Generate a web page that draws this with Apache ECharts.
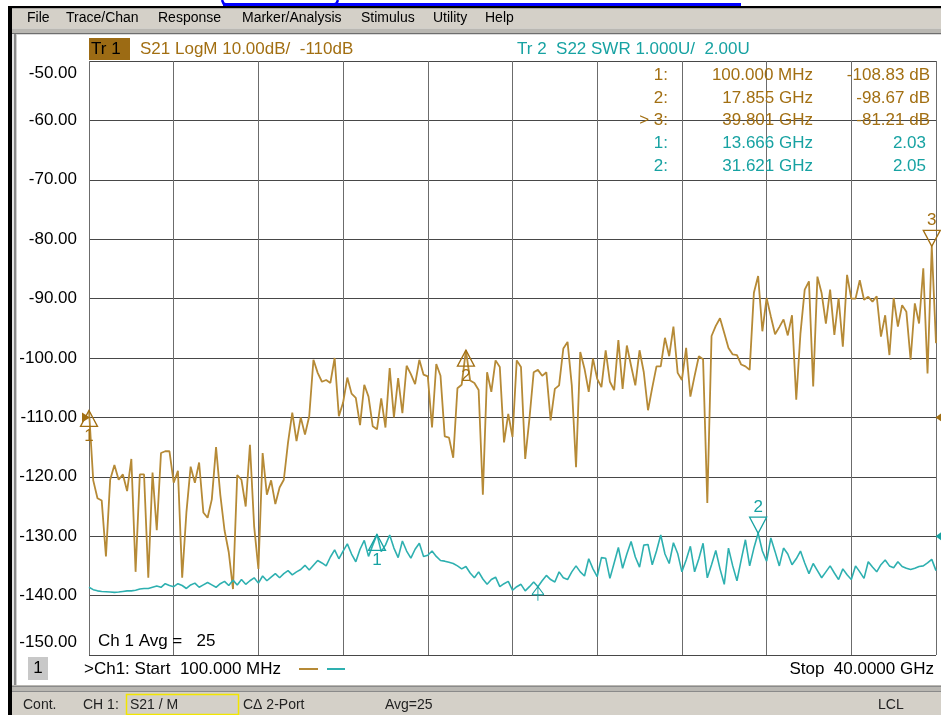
<!DOCTYPE html>
<html><head><meta charset="utf-8">
<script src="https://cdn.jsdelivr.net/npm/echarts@6/dist/echarts.min.js"></script>
<style>html,body{margin:0;padding:0;background:#fff;}#c{width:941px;height:715px;}</style>
</head><body><div id="c"></div>
<script>
// ---- sweep settings (from the picture: Start 100 MHz, Stop 40 GHz, 201 points) ----
const startGHz = 0.1;
const stopGHz = 40.0;
const nPoints = 201;
const freqCats = [];
for (let i = 0; i < nPoints; i++) freqCats.push((startGHz + i * (stopGHz - startGHz) / (nPoints - 1)).toFixed(4));

// ---- Trace 1: S21 LogM (dB) ----
const s21 = [
-108.83,-120.6,-123.6,-124.0,-133.4,-120.5,-118.0,-120.5,-119.6,-122.4,
-117.0,-136.0,-119.6,-119.6,-137.0,-119.3,-129.0,-116.0,-115.7,-115.7,
-121.0,-119.0,-137.0,-126.0,-118.3,-121.0,-117.6,-126.0,-126.9,-123.8,
-115.0,-123.0,-129.0,-132.7,-138.9,-119.7,-120.5,-125.0,-114.6,-128.4,
-135.5,-116.0,-123.0,-120.6,-124.6,-121.8,-120.5,-114.2,-109.2,-114.0,
-110.0,-112.9,-109.8,-100.3,-102.5,-104.0,-103.7,-104.2,-100.0,-109.8,
-107.5,-103.3,-106.0,-106.7,-111.3,-104.5,-106.5,-111.5,-112.0,-106.8,
-111.7,-101.7,-110.0,-103.4,-109.3,-101.3,-102.7,-104.4,-100.3,-102.8,
-103.1,-111.7,-101.0,-103.0,-113.2,-113.4,-116.8,-105.1,-104.5,-98.67,
-103.8,-104.2,-105.4,-123.0,-102.4,-105.7,-100.4,-101.5,-114.2,-109.4,
-113.3,-100.4,-101.5,-117.0,-110.2,-102.4,-102.0,-103.0,-102.4,-110.5,
-105.2,-104.6,-98.4,-97.3,-104.6,-118.4,-99.0,-101.8,-105.7,-100.1,
-103.5,-104.9,-98.7,-104.0,-105.4,-97.0,-105.2,-97.9,-101.3,-104.6,
-98.7,-102.4,-108.8,-105.0,-101.4,-101.4,-96.6,-99.7,-94.7,-102.5,
-103.7,-98.3,-106.5,-103.0,-99.7,-100.2,-124.4,-96.3,-94.6,-93.3,
-95.8,-98.3,-99.4,-99.5,-101.1,-101.4,-102.0,-89.0,-86.2,-95.5,
-89.9,-93.0,-96.0,-94.8,-93.5,-96.2,-92.8,-107.0,-95.8,-88.5,
-87.1,-104.8,-86.3,-89.1,-94.2,-88.5,-96.1,-89.9,-98.1,-86.0,
-90.0,-90.0,-86.9,-90.2,-89.7,-90.5,-89.6,-96.4,-92.8,-99.5,
-89.9,-94.7,-91.1,-92.2,-100.3,-90.8,-94.2,-84.9,-102.6,-81.21,
-97.5
];

// ---- Trace 2: S22 SWR (U) ----
const s22swr = [
1.14,1.10,1.08,1.07,1.065,1.06,1.055,1.06,1.07,1.08,
1.08,1.09,1.11,1.12,1.12,1.14,1.16,1.14,1.20,1.17,
1.15,1.20,1.17,1.12,1.18,1.21,1.14,1.18,1.22,1.18,
1.14,1.20,1.24,1.17,1.26,1.18,1.27,1.19,1.25,1.30,
1.21,1.33,1.25,1.31,1.37,1.30,1.37,1.42,1.35,1.40,
1.44,1.51,1.43,1.51,1.59,1.55,1.50,1.65,1.77,1.62,
1.75,1.87,1.70,1.57,1.78,1.93,1.66,1.85,2.03,1.74,
1.85,2.02,1.80,1.64,1.92,1.75,1.63,1.78,1.88,1.66,
1.68,1.75,1.66,1.59,1.58,1.56,1.54,1.50,1.45,1.49,
1.38,1.30,1.40,1.28,1.19,1.27,1.31,1.15,1.20,1.24,
1.09,1.15,1.19,1.08,1.15,1.23,1.15,1.25,1.34,1.27,
1.23,1.40,1.30,1.27,1.40,1.50,1.40,1.33,1.62,1.45,
1.32,1.64,1.63,1.29,1.55,1.81,1.46,1.70,1.91,1.65,
1.48,1.85,1.86,1.52,1.75,2.02,1.70,1.54,1.89,1.71,
1.40,1.60,1.83,1.40,1.62,1.88,1.30,1.52,1.76,1.45,
1.19,1.80,1.50,1.25,1.60,1.94,1.50,1.80,2.05,1.75,
1.58,1.97,1.74,1.50,1.80,1.70,1.52,1.62,1.75,1.55,
1.37,1.54,1.42,1.30,1.40,1.50,1.38,1.27,1.45,1.35,
1.27,1.50,1.40,1.29,1.57,1.48,1.40,1.52,1.60,1.50,
1.47,1.57,1.49,1.46,1.44,1.46,1.49,1.50,1.55,1.61,
1.42
];

// ---- axis ticks ----
const yTicks = [-150,-140,-130,-120,-110,-100,-90,-80,-70,-60,-50];
const s21RefLevel = -110;
const swrAxisRange = [0, 10];   // 1.000 U/div, ref 2.00 U at the -130 dB line
const swrRefLevel = 2.0;

// ---- markers ----
const s21MarkerNames = ['1','2','3'];
const s21MarkerIdx = [0, 89, 199];
const s21MarkerFreq = ['100.000 MHz','17.855 GHz','39.801 GHz'];
const s21MarkerVal = [-108.83, -98.67, -81.21];
const s22MarkerNames = ['1','2'];
const s22MarkerIdx = [68, 158];
const s22MarkerFreq = ['13.666 GHz','31.621 GHz'];
const s22MarkerVal = [2.03, 2.05];
const extraMarkIdx = 106;

const BROWN = '#a26f12';
const BROWN_LINE = '#b68a36';
const TEAL = '#17a2a2';
const TEAL_LINE = '#2eb0b0';
const FONT = '"Liberation Sans", Arial, sans-serif';

const TRI_UP = 'path://M8.5,0L17,16L0,16Z';
const TRI_DN = 'path://M0,0L17,0L8.5,16Z';
const ARR_L = 'path://M9,0L9,10L0,5Z';
const ARR_R = 'path://M0,0L9,5L0,10Z';
const STIM = 'path://M0,8L6,0L12,8M6,0L6,14M0,8L12,8';

function markerItem(name, idx, val, active, color) {
  return {
    coord: [freqCats[idx], val],
    symbol: active ? TRI_DN : TRI_UP,
    symbolSize: [17, 16],
    symbolOffset: [0, active ? -8 : 8],
    itemStyle: { color: 'rgba(255,255,255,0)', borderColor: color, borderWidth: 1.3 },
    label: { show: true, formatter: name, position: active ? 'top' : 'bottom', distance: 1,
             color: color, fontSize: 17, fontFamily: FONT }
  };
}

const s21MP = s21MarkerNames.map((n, k) => markerItem(n, s21MarkerIdx[k], s21MarkerVal[k], k === 2, BROWN));
s21MP.push({ coord: [freqCats[nPoints - 1], s21RefLevel], symbol: ARR_L, symbolSize: [7, 10], symbolOffset: [3, 0],
  itemStyle: { color: BROWN, borderWidth: 0 }, label: { show: false } });
s21MP.push({ coord: [freqCats[0], s21RefLevel], symbol: ARR_R, symbolSize: [8, 10], symbolOffset: [-3, 0],
  itemStyle: { color: BROWN, borderWidth: 0 }, label: { show: false } });

const s22MP = s22MarkerNames.map((n, k) => markerItem(n, s22MarkerIdx[k], s22MarkerVal[k], k === 1, TEAL));
s22MP.push({ coord: [freqCats[nPoints - 1], swrRefLevel], symbol: ARR_L, symbolSize: [7, 10], symbolOffset: [3, 0],
  itemStyle: { color: TEAL, borderWidth: 0 }, label: { show: false } });
s22MP.push({ coord: [freqCats[extraMarkIdx], s22swr[extraMarkIdx]], symbol: STIM, symbolSize: [12, 14], symbolOffset: [0, 7],
  itemStyle: { color: 'rgba(255,255,255,0)', borderColor: TEAL, borderWidth: 1 }, label: { show: false } });

function fmtDb(v) { return v.toFixed(2) + ' dB'; }

// ---- text / chrome graphics ----
function txt(text, x, y, opt) {
  opt = opt || {};
  return { type: 'text', x: x, y: y, z: 10, silent: true,
    style: { text: text, fill: opt.fill || '#000', fontSize: opt.size || 17, fontFamily: FONT,
             align: opt.align || 'left', verticalAlign: 'middle' } };
}
function rect(x, y, w, h, fill, opt) {
  opt = opt || {};
  return { type: 'rect', z: opt.z == null ? 1 : opt.z, silent: true, shape: { x: x, y: y, width: w, height: h },
           style: opt.stroke ? { fill: 'none', stroke: opt.stroke, lineWidth: opt.lw || 1 } : { fill: fill } };
}
function line(x1, y1, x2, y2, color, w) {
  return { type: 'line', z: 10, silent: true, shape: { x1: x1, y1: y1, x2: x2, y2: y2 }, style: { stroke: color, lineWidth: w || 1 } };
}

const graphics = [];
// blue clipped hyperlink at the very top
graphics.push(rect(223, 3, 518, 3, '#0000ff'));
graphics.push({ type: 'polyline', z: 2, silent: true, shape: { points: [[222, 0], [223.5, 3.5], [227, 5]] }, style: { stroke: '#0000ff', lineWidth: 2.5, fill: 'none' } });
graphics.push({ type: 'polyline', z: 2, silent: true, shape: { points: [[338, 0], [336.5, 3.5], [333, 5]] }, style: { stroke: '#0000ff', lineWidth: 2.5, fill: 'none' } });
// window frame
graphics.push(rect(8, 6, 933, 2.5, '#000'));
graphics.push(rect(8, 6, 4, 709, '#000'));
graphics.push(rect(12, 8.5, 929, 20, '#d4d0c8'));
graphics.push(rect(12, 28.5, 929, 5, '#b9b7b2'));
graphics.push(rect(12, 33, 929, 1.2, '#6e6e6e'));
graphics.push(rect(12, 34, 2, 652, '#e4e4e4'));
graphics.push(rect(14, 34, 2, 652, '#8a8a8a'));
graphics.push(rect(16, 34, 1, 652, '#cfcfcf'));
graphics.push(rect(12, 685, 929, 7, '#b9b7b2'));
graphics.push(rect(12, 686, 929, 1, '#8a8a8a'));
graphics.push(rect(12, 691, 929, 1, '#8a8a8a'));
graphics.push(rect(12, 692, 929, 23, '#d4d0c8'));
// menu
[['File', 27], ['Trace/Chan', 66], ['Response', 158], ['Marker/Analysis', 242], ['Stimulus', 361], ['Utility', 433], ['Help', 485]]
  .forEach(m => graphics.push(txt(m[0], m[1], 18.5, { size: 14 })));
// header
graphics.push(rect(89, 38, 41, 22, '#9c6b14'));
graphics.push(txt('Tr 1', 91, 49.5));
graphics.push(txt('S21 LogM 10.00dB/  -110dB', 140, 49.5, { fill: BROWN }));
graphics.push(txt('Tr 2  S22 SWR 1.000U/  2.00U', 517, 49.5, { fill: TEAL }));
// marker table
const rowY = [75, 98, 120.5, 143.5, 166.5];
s21MarkerNames.forEach((n, k) => {
  graphics.push(txt((k === 2 ? '> ' : '') + n + ':', 668, rowY[k], { fill: BROWN, align: 'right' }));
  graphics.push(txt(s21MarkerFreq[k], 813, rowY[k], { fill: BROWN, align: 'right' }));
  graphics.push(txt(fmtDb(s21MarkerVal[k]), 930, rowY[k], { fill: BROWN, align: 'right' }));
});
s22MarkerNames.forEach((n, k) => {
  graphics.push(txt(n + ':', 668, rowY[3 + k], { fill: TEAL, align: 'right' }));
  graphics.push(txt(s22MarkerFreq[k], 813, rowY[3 + k], { fill: TEAL, align: 'right' }));
  graphics.push(txt(s22MarkerVal[k].toFixed(2), 926, rowY[3 + k], { fill: TEAL, align: 'right' }));
});
// averaging
graphics.push(txt('Ch 1 Avg =   25', 98, 641));
// channel line under the plot
graphics.push(rect(28, 657, 20, 23, '#c8c8c8'));
graphics.push(txt('1', 38, 668.5, { align: 'center' }));
graphics.push(txt('>Ch1: Start  100.000 MHz', 84, 669));
graphics.push(line(299, 669, 318, 669, BROWN_LINE, 2));
graphics.push(line(327, 669, 345, 669, TEAL_LINE, 2));
graphics.push(txt('Stop  40.0000 GHz', 934, 669, { align: 'right' }));
// status bar
graphics.push(txt('Cont.', 23, 705, { size: 14, fill: '#222' }));
graphics.push(txt('CH 1:', 83, 705, { size: 14, fill: '#222' }));
graphics.push(rect(126.5, 694.5, 112, 20, null, { stroke: '#f2e600', lw: 1.5, z: 10 }));
graphics.push(txt('S21 / M', 130, 705, { size: 14, fill: '#222' }));
graphics.push(txt('C\u0394 2-Port', 243, 705, { size: 14, fill: '#222' }));
graphics.push(txt('Avg=25', 385, 705, { size: 14, fill: '#222' }));
graphics.push(txt('LCL', 878, 705, { size: 14, fill: '#222' }));

const yMin = yTicks[0], yMax = yTicks[yTicks.length - 1];

const option = {
  animation: false,
  backgroundColor: '#ffffff',
  grid: { left: 89, top: 61, width: 847, height: 594, containLabel: false, show: false },
  xAxis: {
    type: 'category', data: freqCats, boundaryGap: false,
    axisLine: { show: false }, axisTick: { show: false }, axisLabel: { show: false },
    splitLine: { show: true, interval: function (i) { return i % 20 === 0; }, lineStyle: { color: '#6c6c6c', width: 1 } }
  },
  yAxis: [
    {
      type: 'value', min: yMin, max: yMax, interval: yTicks[1] - yTicks[0],
      axisLine: { show: false }, axisTick: { show: false },
      splitLine: { show: true, lineStyle: { color: '#474747', width: 1 } },
      axisLabel: {
        margin: 12, color: '#000', fontSize: 17, fontFamily: FONT,
        formatter: function (v) {
          const s = v.toFixed(2);
          if (v === yMax) return '{top|' + s + '}';
          if (v === yMin) return '{bot|' + s + '}';
          return s;
        },
        rich: {
          top: { padding: [25, 0, 0, 0], fontSize: 17, fontFamily: FONT, color: '#000' },
          bot: { padding: [0, 0, 25, 0], fontSize: 17, fontFamily: FONT, color: '#000' }
        }
      }
    },
    { type: 'value', min: swrAxisRange[0], max: swrAxisRange[1], show: false, splitLine: { show: false } }
  ],
  series: [
    {
      name: 'S21', type: 'line', data: s21, yAxisIndex: 0, symbol: 'none', z: 3,
      lineStyle: { color: BROWN_LINE, width: 1.8 },
      markPoint: { silent: true, animation: false, data: s21MP }
    },
    {
      name: 'S22', type: 'line', data: s22swr, yAxisIndex: 1, symbol: 'none', z: 3,
      lineStyle: { color: TEAL_LINE, width: 1.6 },
      markPoint: { silent: true, animation: false, data: s22MP }
    }
  ],
  graphic: graphics
};

const chart = echarts.init(document.getElementById('c'), null, { renderer: 'canvas' });
chart.setOption(option);
</script>
</body></html>
